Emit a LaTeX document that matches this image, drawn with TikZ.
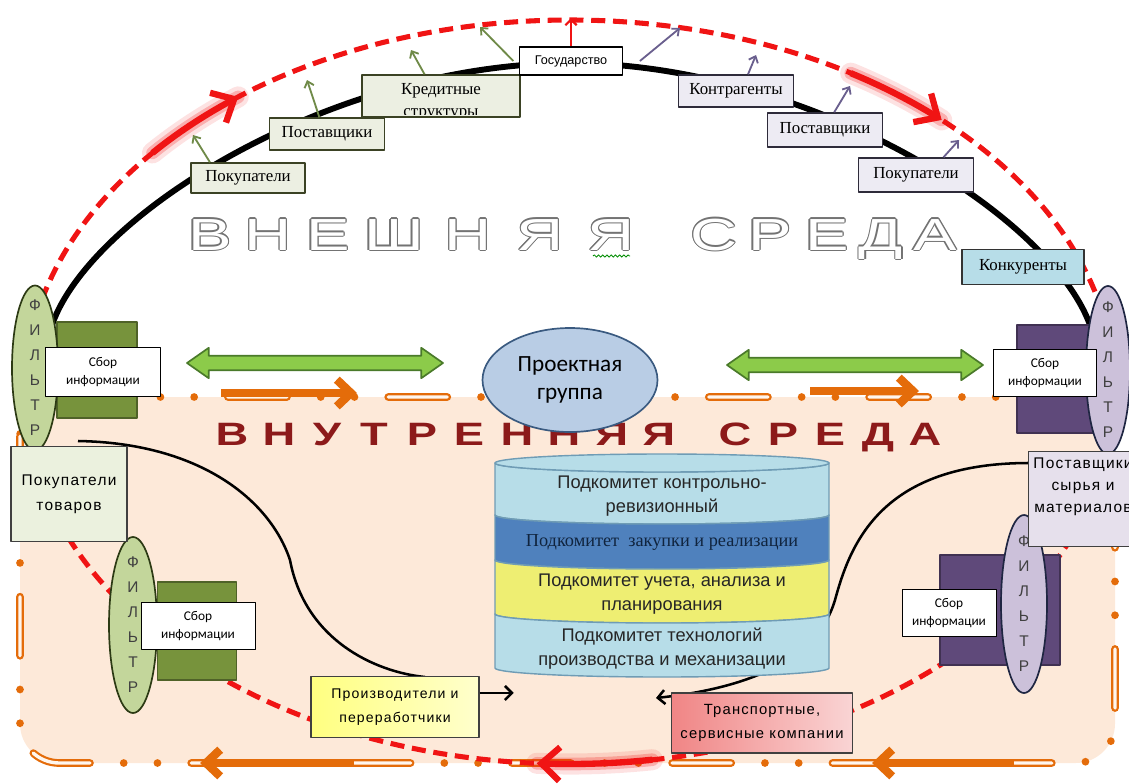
\documentclass[tikz,border=0pt]{standalone}
\usepackage{fontspec}
\setmainfont{Liberation Serif}
\setsansfont{Liberation Sans}
\newfontfamily\calibri{Carlito}
\newfontfamily\spaced[LetterSpace=8]{Liberation Sans}
\newfontfamily\wideout[FakeStretch=1.45]{Liberation Sans}
\newfontfamily\widein[FakeStretch=1.4]{Liberation Sans}
\usetikzlibrary{arrows.meta,positioning,shapes.geometric,shapes.arrows,decorations.pathmorphing}

\definecolor{peach}{HTML}{FDE9D9}
\definecolor{capsin}{HTML}{FFF6EE}
\definecolor{borderor}{HTML}{E46C0A}
\definecolor{dashred}{HTML}{F01414}
\definecolor{olivebox}{HTML}{ECEFE2}
\definecolor{oliveline}{HTML}{3B4224}
\definecolor{olivearr}{HTML}{6F8A48}
\definecolor{lilacbox}{HTML}{EDEBF3}
\definecolor{lilacline}{HTML}{2E2B3A}
\definecolor{lilacarr}{HTML}{6A5F8E}
\definecolor{konkfill}{HTML}{B7DDE8}
\definecolor{filtgreen}{HTML}{C3D69B}
\definecolor{filtgreenline}{HTML}{2C3A14}
\definecolor{rectgreen}{HTML}{77933C}
\definecolor{rectgreenline}{HTML}{4F6228}
\definecolor{filtlilac}{HTML}{CCC1DA}
\definecolor{filtlilacline}{HTML}{1F2642}
\definecolor{rectlilac}{HTML}{5F497A}
\definecolor{rectlilacline}{HTML}{403152}
\definecolor{arrgreen}{HTML}{8CCB4A}
\definecolor{arrgreenline}{HTML}{4A7A2A}
\definecolor{projfill}{HTML}{B9CDE5}
\definecolor{projline}{HTML}{3A5A80}
\definecolor{cylblue}{HTML}{B7DDE8}
\definecolor{cyldark}{HTML}{4F81BD}
\definecolor{cylyellow}{HTML}{EEEE72}
\definecolor{cylline}{HTML}{6F9CB5}
\definecolor{navytext}{HTML}{10243E}
\definecolor{innerred}{HTML}{8C1A1A}
\definecolor{buyfill}{HTML}{EBF1DE}
\definecolor{rawfill}{HTML}{E6E0EC}
\definecolor{prodyellow}{HTML}{FFFF80}
\definecolor{transred}{HTML}{F08585}

\begin{document}
\begin{tikzpicture}[x=0.025cm, y=-0.025cm, line join=round,
  wh/.style 2 args={minimum width=#1*0.025cm, minimum height=#2*0.025cm},
  outer box/.style={rectangle, draw=oliveline, line width=1.1pt, fill=olivebox, inner sep=0pt, font=\fontsize{12}{14}\selectfont},
  outer boxR/.style={outer box, draw=lilacline, fill=lilacbox},
  gos box/.style={rectangle, draw=black, line width=0.8pt, fill=white, inner sep=0pt, font=\sffamily\fontsize{9}{11}\selectfont},
  konk box/.style={outer box, draw=black!80, fill=konkfill},
  olive arrow/.style={olivearr, line width=1.3pt, -{Straight Barb[length=4pt,width=7pt]}},
  lilac arrow/.style={lilacarr, line width=1.3pt, -{Straight Barb[length=4pt,width=7pt]}},
  info box/.style={rectangle, draw=black, line width=0.7pt, fill=white, inner sep=0pt, align=center, font=\calibri\fontsize{9.5}{12.5}\selectfont},
  filt/.style={ellipse, line width=1.2pt, inner sep=0pt},
  filt letters/.style={align=center, text=black!75, font=\sffamily\fontsize{11}{17.8}\selectfont},
  green filt/.style={filt, draw=filtgreenline, fill=filtgreen},
  lilac filt/.style={filt, draw=filtlilacline, fill=filtlilac},
  green rect/.style={rectangle, draw=rectgreenline, line width=1pt, fill=rectgreen, inner sep=0pt},
  lilac rect/.style={rectangle, draw=rectlilacline, line width=1pt, fill=rectlilac, inner sep=0pt},
  fat arrow/.style={double arrow, draw=arrgreenline, fill=arrgreen, line width=1.2pt, inner sep=0.16cm, double arrow head extend=0.2cm, double arrow tip angle=70},
  or arrow/.style={borderor, line width=6pt, -{Straight Barb[length=10pt,width=19pt]}},
  red head/.style={dashred, line width=4.5pt, -{Straight Barb[length=13pt,width=24pt]}},
  black curve/.style={line width=1.8pt},
  black head/.style={line width=1.8pt, -{Straight Barb[length=5pt,width=10pt]}},
  cyl text/.style={align=center, text=black!85, font=\sffamily\fontsize{13}{17}\selectfont},
  inner box/.style={rectangle, draw=black!75, line width=1pt, inner sep=0pt, align=center, font=\spaced\fontsize{11}{17.5}\selectfont},
  in letter/.style={anchor=base, text=innerred, font=\widein\bfseries\fontsize{23}{23}\selectfont},
  out letter/.style={anchor=base, font=\wideout\fontsize{32}{32}\selectfont}]
\useasboundingbox (0,0) rectangle (1129,783);

% inner area with its border
\fill[peach, rounded corners=28pt] (20,397) rectangle (1115,763);
\draw[borderor, line width=5.5pt, line cap=round, rounded corners=28pt,
  dash pattern=on 42pt off 24pt on 0pt off 24pt on 0pt off 24pt] (20,397) rectangle (1115,763);
\draw[capsin, line width=2.4pt, line cap=round, rounded corners=28pt,
  dash pattern=on 42pt off 72pt] (20,397) rectangle (1115,763);

% outer arc and the dashed cycle
\draw[line width=4.2pt] (52,325) .. controls (90,215) and (330,64) .. (570,63)
  .. controls (810,64) and (1050,215) .. (1090,325);
\draw[dashred, line width=3.6pt, dash pattern=on 10pt off 5.5pt] (570,392) ellipse [x radius=545, y radius=372];

% inner links
\coordinate (lc) at (78,441);
\coordinate (lcend) at (425,677);
\coordinate (rc) at (1029,463);
\coordinate (rcend) at (656,698);
\draw[black curve] (lc) .. controls (200,443) and (270,500) .. (290,560)
  .. controls (305,640) and (375,672) .. (lcend);
\draw[black head] (rc) .. controls (880,463) and (850,545) .. (835,600)
  .. controls (815,668) and (730,690) .. (rcend);

% inner title
\foreach \l/\xx [count=\i] in {В/232,Н/279,У/327,Т/374,Р/422,Е/469,Н/517,Н/564,Я/612,Я/659,С/735,Р/783,Е/830,Д/878,А/925}
  \node[in letter] (vn\i) at (\xx,445) {\l};

% subcommittees
\foreach \ya/\yb/\col in {463/515/cylblue,515/560/cyldark,560/614/cylyellow,614/668/cylblue}
  \draw[cylline, line width=1pt, fill=\col] (495,\ya) -- (495,\yb)
    arc[start angle=180, end angle=0, x radius=167, y radius=9] -- (829,\ya)
    arc[start angle=0, end angle=180, x radius=167, y radius=9] -- cycle;
\draw[cylline, line width=1pt, fill=cylblue] (662,463) ellipse [x radius=167, y radius=9];
\node[cyl text] (sub1) at (662,496) {Подкомитет контрольно-\\ревизионный};
\node[text=navytext, font=\fontsize{13}{15}\selectfont] (sub2) at (662,542) {Подкомитет~ закупки и реализации};
\node[cyl text] (sub3) at (662,594) {Подкомитет учета, анализа и\\планирования};
\node[cyl text] (sub4) at (662,649) {Подкомитет технологий\\производства и механизации};

\node[ellipse, draw=projline, line width=1.2pt, fill=projfill, inner sep=0pt, wh={175}{104}, align=center,
  font=\calibri\fontsize{16.5}{20.5}\selectfont] (proj) at (570,380) {Проектная\\группа};

% filters with info blocks
\node[green rect, wh={80}{96}] (rectA) at (97,370) {};
\node[green filt, wh={46}{165}, label={[filt letters]center:{Ф\\И\\Л\\Ь\\Т\\Р}}] (filtA) at (35,368) {};
\node[info box, wh={115}{49}] (infoA) at (103,372) {Сбор\\информации};

\node[lilac rect, wh={78}{108}] (rectB) at (1056,379) {};
\node[lilac filt, wh={44}{168}, label={[filt letters]center:{Ф\\И\\Л\\Ь\\Т\\Р}}] (filtB) at (1108,370) {};
\node[info box, wh={103}{47}] (infoB) at (1045,373) {Сбор\\информации};

\node[green rect, wh={79}{98}] (rectC) at (197,631) {};
\node[green filt, wh={48}{176}, label={[filt letters]center:{Ф\\И\\Л\\Ь\\Т\\Р}}] (filtC) at (133,625) {};
\node[info box, wh={114}{47}] (infoC) at (198,626) {Сбор\\информации};

\node[lilac rect, wh={120}{110}] (rectD) at (1000,610) {};
\node[lilac filt, wh={46}{178}, label={[filt letters]center:{Ф\\И\\Л\\Ь\\Т\\Р}}] (filtD) at (1024,604) {};
\node[info box, wh={94}{47}] (infoD) at (949,613) {Сбор\\информации};

% inner partners
\node[inner box, fill=buyfill, wh={116}{95}] (buyIn) at (69,494) {Покупатели\\товаров};
\node[inner box, fill=rawfill, wh={111}{95}] (rawsup) at (1084,499) {};
\node[align=center, font=\spaced\fontsize{11}{15.5}\selectfont] (rawtxt) at (1083,487) {Поставщики\\сырья и\\материалов};
\node[inner box, left color=prodyellow, right color=prodyellow!40, wh={168}{61}, font=\spaced\fontsize{10}{17}\selectfont] (prod) at (395,707) {Производители и\\переработчики};
\node[inner box, left color=transred, right color=transred!35, wh={181}{60}, font=\spaced\fontsize{10.5}{17}\selectfont] (trans) at (762,723) {Транспортные,\\сервисные компании};
\draw[black head] ([yshift=10pt]prod.east) -- ++(34,0);

% outer partners
\node[outer box, wh={114}{30}] (buyL) at (248,178) {Покупатели};
\node[outer box, wh={115}{32}] (supL) at (327,134) {Поставщики};
\node[outer box, wh={158}{42}] (cred) at (441,96) {};
\begin{scope}
\clip ([shift={(2pt,2pt)}]cred.south west) rectangle ([shift={(-2pt,-2pt)}]cred.north east);
\node[anchor=north, align=center, font=\fontsize{12}{16}\selectfont] (credtxt) at ([yshift=-3pt]cred.north) {Кредитные\\структуры};
\end{scope}
\node[gos box, wh={103}{28}] (gos) at (571,61) {Государство};
\node[outer boxR, wh={115}{32}] (contr) at (736,91) {Контрагенты};
\node[outer boxR, wh={115}{34}] (supR) at (825,130) {Поставщики};
\node[outer boxR, wh={115}{34}] (buyR) at (916,175) {Покупатели};
\node[konk box, wh={122}{35}] (konk) at (1023,267) {Конкуренты};

\coordinate (e1) at (193,135);
\coordinate (e2) at (307,80);
\coordinate (e3) at (411,50);
\coordinate (e4) at (480,27);
\coordinate (e5) at (571,18);
\coordinate (e6) at (680,28);
\coordinate (e7) at (756,55);
\coordinate (e8) at (850,86);
\coordinate (e9) at (959,140);
\draw[olive arrow] ([xshift=14pt]buyL.north west) -- (e1);
\draw[olive arrow] ([xshift=36pt]supL.north west) -- (e2);
\draw[olive arrow] ([xshift=45pt]cred.north west) -- (e3);
\draw[olive arrow] ([xshift=-4pt]gos.west) -- (e4);
\draw[dashred, line width=1.6pt, -{Straight Barb[length=4pt,width=8pt]}] (gos.north) -- (e5);
\draw[lilac arrow] ([xshift=12pt]gos.east) -- (e6);
\draw[lilac arrow] ([xshift=50pt]contr.north west) -- (e7);
\draw[lilac arrow] ([xshift=48pt]supR.north west) -- (e8);
\draw[lilac arrow] ([xshift=61pt]buyR.north west) -- (e9);

% exchange arrows
\node[fat arrow, minimum height=256*0.025cm] (gaL) at (315,363) {};
\node[fat arrow, minimum height=256*0.025cm] (gaR) at (855,365) {};
\coordinate (o1) at (221,393);
\coordinate (o2) at (357,393);
\coordinate (o3) at (810,391);
\coordinate (o4) at (919,391);
\coordinate (o5) at (354,763);
\coordinate (o6) at (200,763);
\coordinate (o7) at (1014,763);
\coordinate (o8) at (872,763);
\draw[or arrow] (o1) -- (o2);
\draw[or arrow] (o3) -- (o4);
\draw[or arrow] (o5) -- (o6);
\draw[or arrow] (o7) -- (o8);

% glowing red arrows on the cycle
\foreach \a/\b in {140/127.5,59/47,278.7/266.5} {
  \draw[dashred, opacity=.12, line width=15pt, line cap=round] plot[domain=\a:\b, samples=12] ({570+545*cos(\x)},{392-372*sin(\x)});
  \draw[dashred, opacity=.25, line width=9pt, line cap=round] plot[domain=\a:\b, samples=12] ({570+545*cos(\x)},{392-372*sin(\x)});
  \draw[red head] plot[domain=\a:\b, samples=12] ({570+545*cos(\x)},{392-372*sin(\x)});
}

% outer title, hollow letters
\foreach \l/\xx [count=\i] in {В/210,Н/268,Е/328,Ш/394,Н/468,Я/540,Я/611,С/714,Р/770,Е/827,Д/881,А/935} {
  \foreach \dx/\dy [count=\j] in {-.9/0,.9/0,0/-.9,0/.9,-.65/-.65,.65/.65,-.65/.65,.65/-.65}
    \node[out letter, text=black!55, xshift=\dx pt, yshift=\dy pt] (wo\i-\j) at (\xx,250) {\l};
  \node[out letter, text=white] (wn\i) at (\xx,250) {\l};
}
\draw[green!55!black, line width=0.6pt, decorate, decoration={snake, amplitude=0.8pt, segment length=3pt}] (593,256) -- (630,256);
\end{tikzpicture}
\end{document}
